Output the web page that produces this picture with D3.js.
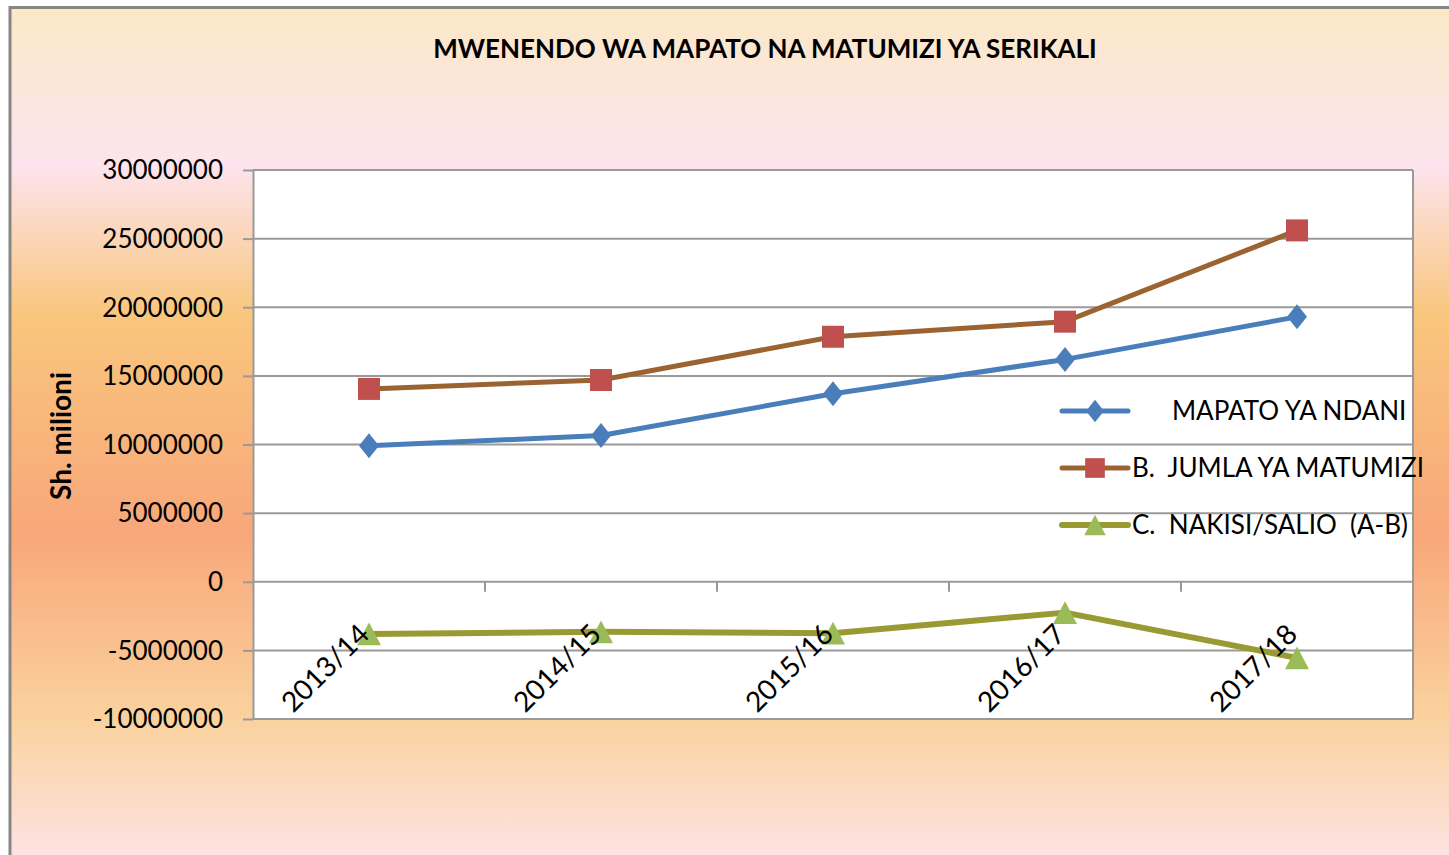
<!DOCTYPE html>
<html>
<head>
<meta charset="utf-8">
<script src="https://cdn.jsdelivr.net/npm/d3@7"></script>
<style>
    html, body { margin: 0; padding: 0; background: #fff; overflow: hidden }
    text { font-family: Lato, "Open Sans", sans-serif; fill: #000 }
</style>
</head>
<body>
<script>
var categories = ["2013/14", "2014/15", "2015/16", "2016/17", "2017/18"]
var mapato = [9900000, 10650000, 13700000, 16200000, 19300000]
var matumizi = [14050000, 14700000, 17850000, 18950000, 25600000]
var nakisi = [-3800000, -3650000, -3750000, -2250000, -5550000]
var seriesNames = ["      MAPATO YA NDANI", "B.  JUMLA YA MATUMIZI", "C.  NAKISI/SALIO  (A-B)"]
var yTicks = [-10000000, -5000000, 0, 5000000, 10000000, 15000000, 20000000, 25000000, 30000000]
var title = "MWENENDO WA MAPATO NA MATUMIZI YA SERIKALI"
var yTitle = "Sh. milioni"

var width = 1449,
    height = 855,
    plot = { left: 253, right: 1413, top: 170, bottom: 719 }

var svg = d3.select("body").append("svg")
    .attr("width", width)
    .attr("height", height)

// background gradient of the chart area
var grad = svg.append("defs").append("linearGradient")
    .attr("id", "bg")
    .attr("gradientUnits", "userSpaceOnUse")
    .attr("x1", 0).attr("y1", 7)
    .attr("x2", 0).attr("y2", 855)

;[[0, "#fbe8c6"], [0.184, "#fde4ee"], [0.363, "#f9c67d"], [0.621, "#f8a77a"], [0.84, "#fad29e"], [1, "#fde2e2"]]
    .forEach(function(s) {
        grad.append("stop").attr("offset", s[0]).attr("stop-color", s[1])
    })

svg.append("rect")
    .attr("x", 10).attr("y", 7.5)
    .attr("width", width).attr("height", height)
    .attr("fill", "url(#bg)")
    .attr("stroke", "#868686")
    .attr("stroke-width", 3)

var x = d3.scaleBand()
    .domain(categories)
    .range([plot.left, plot.right])

var y = d3.scaleLinear()
    .domain([-10000000, 30000000])
    .range([plot.bottom, plot.top])

// plot area
svg.append("rect")
    .attr("x", plot.left).attr("y", plot.top)
    .attr("width", plot.right - plot.left)
    .attr("height", plot.bottom - plot.top)
    .attr("fill", "#fff")

// y axis with gridlines
var yAxis = svg.append("g")
    .attr("transform", "translate(" + plot.left + ",0)")
    .call(d3.axisLeft(y)
        .tickValues(yTicks)
        .tickFormat(function(d) { return String(d) })
        .tickSizeInner(10)
        .tickSizeOuter(0)
        .tickPadding(20))

yAxis.select(".domain").attr("stroke", "#9a9a9a").attr("stroke-width", 2)
yAxis.selectAll(".tick line").attr("stroke", "#9a9a9a").attr("stroke-width", 2)
yAxis.selectAll(".tick text")
    .attr("font-size", 26)
    .attr("font-family", "Lato")
    .attr("dy", "0.34em")

svg.append("g").selectAll("line")
    .data(yTicks)
    .join("line")
    .attr("x1", plot.left).attr("x2", plot.right)
    .attr("y1", function(d) { return y(d) })
    .attr("y2", function(d) { return y(d) })
    .attr("stroke", "#9a9a9a")
    .attr("stroke-width", 2)

svg.append("line")
    .attr("x1", plot.right).attr("x2", plot.right)
    .attr("y1", plot.top).attr("y2", plot.bottom)
    .attr("stroke", "#9a9a9a")
    .attr("stroke-width", 2)

// x axis ticks on the zero line
svg.append("g").selectAll("line")
    .data(categories)
    .join("line")
    .attr("x1", function(d) { return x(d) + x.bandwidth() })
    .attr("x2", function(d) { return x(d) + x.bandwidth() })
    .attr("y1", y(0)).attr("y2", y(0) + 10)
    .attr("stroke", "#9a9a9a")
    .attr("stroke-width", 2)

// series
var diamond = {
    draw: function(ctx, size) {
        var r = Math.sqrt(size) / 2
        ctx.moveTo(0, -r * 1.25)
        ctx.lineTo(r, 0)
        ctx.lineTo(0, r * 1.25)
        ctx.lineTo(-r, 0)
        ctx.closePath()
    }
}
var triangle = {
    draw: function(ctx, size) {
        var r = Math.sqrt(size) / 2
        ctx.moveTo(0, -r * 0.95)
        ctx.lineTo(r, r * 0.95)
        ctx.lineTo(-r, r * 0.95)
        ctx.closePath()
    }
}

var series = [
    { name: seriesNames[0], values: mapato, line: "#4a7ebb", fill: "#4a7ebb", symbol: diamond, size: 400, width: 5 },
    { name: seriesNames[1], values: matumizi, line: "#9a6330", fill: "#c0504d", symbol: d3.symbolSquare, size: 484, width: 5 },
    { name: seriesNames[2], values: nakisi, line: "#999a34", fill: "#9bbb59", symbol: triangle, size: 576, width: 6 }
]

var line = d3.line()
    .x(function(d, i) { return x(categories[i]) + x.bandwidth() / 2 })
    .y(function(d) { return y(d) })

series.forEach(function(s) {
    svg.append("path")
        .datum(s.values)
        .attr("d", line)
        .attr("fill", "none")
        .attr("stroke", s.line)
        .attr("stroke-width", s.width)
        .attr("stroke-linejoin", "round")

    svg.append("g").selectAll("path")
        .data(s.values)
        .join("path")
        .attr("transform", function(d, i) {
            return "translate(" + (x(categories[i]) + x.bandwidth() / 2) + "," + y(d) + ")"
        })
        .attr("d", d3.symbol().type(s.symbol).size(s.size))
        .attr("fill", s.fill)
})

// category labels
svg.append("g").selectAll("text")
    .data(categories)
    .join("text")
    .attr("transform", function(d) {
        return "translate(" + (x(d) + x.bandwidth() / 2 + 2) + ",636) rotate(-45)"
    })
    .attr("text-anchor", "end")
    .attr("font-size", 28)
    .text(function(d) { return d })

// legend
var legend = svg.append("g")
    .attr("transform", "translate(1062,411)")

var item = legend.selectAll("g")
    .data(series)
    .join("g")
    .attr("transform", function(d, i) { return "translate(0," + (i * 57) + ")" })

item.append("line")
    .attr("x1", 0).attr("x2", 66)
    .attr("stroke", function(d) { return d.line })
    .attr("stroke-width", function(d) { return d.width })
    .attr("stroke-linecap", "round")

item.append("path")
    .attr("transform", "translate(33,0)")
    .attr("d", function(d) { return d3.symbol().type(d.symbol).size(d.size * 0.8)() })
    .attr("fill", function(d) { return d.fill })

item.append("text")
    .attr("x", 70)
    .attr("y", 9)
    .attr("font-size", 26)
    .style("white-space", "pre")
    .text(function(d) { return d.name })

// titles
svg.append("text")
    .attr("x", 765).attr("y", 58)
    .attr("text-anchor", "middle")
    .attr("font-size", 26)
    .attr("font-weight", "bold")
    .text(title)

svg.append("text")
    .attr("transform", "translate(71,436) rotate(-90)")
    .attr("text-anchor", "middle")
    .attr("font-size", 28)
    .attr("font-weight", "bold")
    .text(yTitle)
</script>
</body>
</html>
